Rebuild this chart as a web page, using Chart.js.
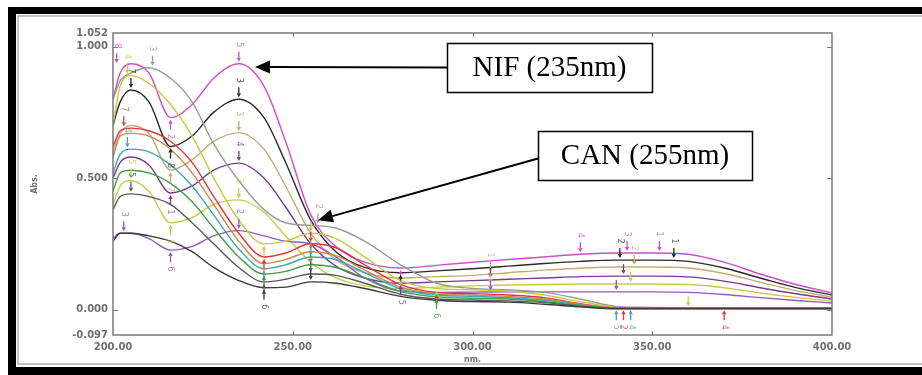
<!DOCTYPE html>
<html>
<head>
<meta charset="utf-8">
<script src="https://cdn.jsdelivr.net/npm/chart.js@4.4.1/dist/chart.umd.min.js"></script>
<style>
  body { margin: 0; background: #fff; }
  canvas { display: block; }
</style>
</head>
<body>
<canvas id="spectra" width="922" height="375"></canvas>
<script>
// 波长 (nm)
const wavelengths = [200, 202, 205, 210, 216, 222, 228, 235, 242, 248, 255, 262, 270, 280, 290, 300, 310, 320, 330, 340, 350, 360, 370, 380, 390, 400];

// NIF 含量较高的曲线 (235nm 有峰)
const absMagenta = [0.80, 0.90, 0.935, 0.90, 0.73, 0.78, 0.88, 0.935, 0.85, 0.64, 0.36, 0.24, 0.18, 0.158, 0.168, 0.18, 0.19, 0.20, 0.21, 0.215, 0.215, 0.21, 0.18, 0.135, 0.095, 0.063];
const absBlack   = [0.70, 0.79, 0.835, 0.79, 0.62, 0.66, 0.75, 0.80, 0.73, 0.56, 0.34, 0.22, 0.16, 0.14, 0.147, 0.155, 0.165, 0.175, 0.183, 0.188, 0.188, 0.183, 0.158, 0.12, 0.083, 0.055];
const absKhaki   = [0.60, 0.67, 0.70, 0.67, 0.53, 0.57, 0.64, 0.672, 0.61, 0.47, 0.29, 0.19, 0.14, 0.12, 0.125, 0.13, 0.14, 0.15, 0.157, 0.162, 0.162, 0.158, 0.137, 0.104, 0.072, 0.047];
const absPurple  = [0.50, 0.56, 0.58, 0.55, 0.443, 0.47, 0.53, 0.557, 0.50, 0.39, 0.25, 0.165, 0.12, 0.10, 0.105, 0.11, 0.115, 0.12, 0.125, 0.127, 0.127, 0.124, 0.108, 0.083, 0.06, 0.04];
const absYellow  = [0.40, 0.47, 0.49, 0.45, 0.33, 0.35, 0.40, 0.417, 0.37, 0.28, 0.18, 0.12, 0.09, 0.08, 0.085, 0.09, 0.093, 0.095, 0.097, 0.097, 0.097, 0.095, 0.083, 0.063, 0.046, 0.032];
const absViolet  = [0.27, 0.29, 0.29, 0.27, 0.226, 0.24, 0.28, 0.30, 0.28, 0.26, 0.25, 0.20, 0.12, 0.07, 0.065, 0.066, 0.067, 0.067, 0.067, 0.067, 0.067, 0.065, 0.057, 0.045, 0.034, 0.025];

// CAN 含量较高的曲线 (242nm 谷, 255nm 肩峰)
const absGray    = [0.80, 0.87, 0.90, 0.92, 0.88, 0.79, 0.63, 0.49, 0.38, 0.33, 0.32, 0.31, 0.26, 0.17, 0.10, 0.08, 0.075, 0.065, 0.04, 0.012, 0.008, 0.006, 0.005, 0.005, 0.005, 0.005];
const absLime    = [0.70, 0.85, 0.89, 0.86, 0.78, 0.66, 0.50, 0.34, 0.25, 0.26, 0.29, 0.27, 0.20, 0.11, 0.08, 0.075, 0.07, 0.055, 0.03, 0.008, 0.005, 0.005, 0.005, 0.005, 0.005, 0.005];
const absRed     = [0.62, 0.68, 0.69, 0.68, 0.64, 0.56, 0.43, 0.29, 0.20, 0.215, 0.25, 0.235, 0.17, 0.095, 0.065, 0.06, 0.055, 0.045, 0.022, 0.006, 0.005, 0.005, 0.005, 0.005, 0.005, 0.005];
const absOrange  = [0.58, 0.66, 0.67, 0.66, 0.61, 0.52, 0.40, 0.26, 0.175, 0.19, 0.22, 0.205, 0.15, 0.085, 0.06, 0.055, 0.05, 0.04, 0.02, 0.006, 0.005, 0.005, 0.005, 0.005, 0.005, 0.005];
const absTeal    = [0.52, 0.59, 0.61, 0.60, 0.55, 0.47, 0.36, 0.23, 0.155, 0.17, 0.20, 0.19, 0.14, 0.078, 0.055, 0.05, 0.045, 0.035, 0.017, 0.005, 0.005, 0.005, 0.005, 0.005, 0.005, 0.005];
const absGreen   = [0.45, 0.52, 0.53, 0.52, 0.48, 0.41, 0.31, 0.20, 0.135, 0.145, 0.17, 0.16, 0.12, 0.068, 0.048, 0.043, 0.04, 0.03, 0.015, 0.005, 0.005, 0.005, 0.005, 0.005, 0.005, 0.005];
const absDark    = [0.38, 0.43, 0.44, 0.43, 0.40, 0.33, 0.25, 0.16, 0.105, 0.115, 0.135, 0.13, 0.10, 0.058, 0.04, 0.036, 0.033, 0.026, 0.012, 0.004, 0.004, 0.004, 0.004, 0.004, 0.004, 0.004];
const absLowest  = [0.26, 0.29, 0.29, 0.28, 0.26, 0.22, 0.16, 0.11, 0.083, 0.085, 0.105, 0.10, 0.08, 0.05, 0.035, 0.03, 0.028, 0.02, 0.01, 0.003, 0.003, 0.003, 0.003, 0.003, 0.003, 0.003];

// 坐标轴刻度
const xTicks = [200, 250, 300, 350, 400];
const yTicks = [-0.097, 0.000, 0.500, 1.000, 1.052];

// 曲线与颜色
const seriesList = [absLowest, absDark, absGreen, absTeal, absOrange, absRed, absLime, absGray,
                    absViolet, absYellow, absPurple, absKhaki, absBlack, absMagenta];
const seriesColors = ['#3a3a3a', '#5a5a5a', '#3f9f46', '#3aa6b8', '#c98a4a', '#e0373a', '#c4cc3a', '#9a9a9a',
                      '#9a58b4', '#c6cc4a', '#7c3a8c', '#c2ae74', '#2a2a2a', '#d14ccc'];

// 峰/谷标记: 波长, 吸光度, 所属曲线序号, 编号, 方向 (1 = 峰, -1 = 谷)
const markNm     = [235, 235, 235, 235, 235, 235, 216, 216, 216, 216, 216, 216,
                    201, 211, 204, 205, 203, 204, 205, 205, 203,
                    242, 242, 242, 242, 242, 242, 242,
                    257, 255, 255, 255, 255, 255, 255, 255,
                    280, 280, 280, 280, 290, 290, 290,
                    305, 305, 305, 305, 330,
                    343, 341, 345, 342, 344, 340, 340, 342, 344, 352, 356, 360, 370];
const markAbs    = [0.935, 0.80, 0.672, 0.557, 0.417, 0.30, 0.73, 0.62, 0.53, 0.443, 0.33, 0.226,
                    0.93, 0.92, 0.89, 0.835, 0.69, 0.61, 0.49, 0.44, 0.29,
                    0.25, 0.20, 0.175, 0.155, 0.135, 0.105, 0.083,
                    0.32, 0.29, 0.25, 0.22, 0.20, 0.17, 0.135, 0.105,
                    0.158, 0.14, 0.12, 0.10, 0.08, 0.065, 0.048,
                    0.135, 0.113, 0.091, 0.066, 0.21,
                    0.215, 0.188, 0.162, 0.127, 0.097, 0.067, 0.005, 0.005, 0.005, 0.215, 0.188, 0.005, 0.005];
const markSeries = [13, 12, 11, 10, 9, 8, 13, 12, 11, 10, 9, 8,
                    13, 7, 6, 12, 5, 3, 9, 1, 8,
                    6, 5, 4, 3, 2, 1, 0,
                    7, 6, 5, 4, 3, 2, 1, 0,
                    13, 12, 11, 10, 6, 5, 2,
                    11, 10, 9, 8, 13,
                    13, 12, 11, 10, 9, 8, 3, 5, 3, 13, 12, 6, 5];
const markLabel  = ['5', '3', '3', '4', '3', '2', '2', '8', '7', '1', '1', '6',
                    '8', '3', '4', '7', '7', '4', '5', '5', '3',
                    '', '', '', '', '', '', '6',
                    '2', '', '', '', '', '', '', '',
                    '', '', '', '5', '', '', '6',
                    '1', '', '', '', '4',
                    '3', '2', '2', '', '', '', '5', '2', '4', '1', '1', '', '4'];
const markDir    = [1, 1, 1, 1, 1, 1, -1, -1, -1, -1, -1, -1,
                    1, 1, 1, 1, 1, 1, 1, 1, 1,
                    -1, -1, -1, -1, -1, -1, -1,
                    1, 1, 1, 1, 1, 1, 1, 1,
                    -1, -1, -1, -1, -1, -1, -1,
                    1, 1, 1, 1, 1,
                    1, 1, 1, 1, 1, 1, -1, -1, -1, 1, 1, 1, -1];

// 标注框 (NIF / CAN)
const callouts = [
  { text: 'NIF (235nm)', box: [447, 43, 205, 49], tipNm: 239.5, tipAbs: 0.923, dy: 0 },
  { text: 'CAN (255nm)', box: [538, 131, 214, 49], tipNm: 257.0, tipAbs: 0.340, dy: 3 }
];

const datasets = seriesList.map((vals, i) => ({
  data: vals.map((v, j) => ({ x: wavelengths[j], y: v })),
  borderColor: seriesColors[i],
  borderWidth: 1.4,
  pointRadius: 0,
  cubicInterpolationMode: 'monotone',
  fill: false
}));

function drawArrow(ctx, sx, sy, tx, ty, headLen, headW) {
  const ang = Math.atan2(ty - sy, tx - sx);
  const hx = tx - headLen * Math.cos(ang), hy = ty - headLen * Math.sin(ang);
  ctx.beginPath();
  ctx.moveTo(sx, sy);
  ctx.lineTo(hx, hy);
  ctx.stroke();
  ctx.beginPath();
  ctx.moveTo(tx, ty);
  ctx.lineTo(hx + headW * Math.sin(ang), hy - headW * Math.cos(ang));
  ctx.lineTo(hx - headW * Math.sin(ang), hy + headW * Math.cos(ang));
  ctx.closePath();
  ctx.fill();
}

// 画外框、坐标框、内刻度、峰标记与标注
const framePlugin = {
  id: 'frame',
  beforeDraw(chart) {
    const ctx = chart.ctx;
    ctx.save();
    ctx.fillStyle = '#fff';
    ctx.fillRect(0, 0, chart.width, chart.height);
    // 黑色粗边框
    ctx.fillStyle = '#000';
    ctx.fillRect(8, 7, chart.width - 8, 7);
    ctx.fillRect(8, 7, 8, chart.height - 7);
    ctx.fillRect(8, chart.height - 8, chart.width - 8, 8);
    // 内侧灰线
    ctx.strokeStyle = '#b0b0b0';
    ctx.lineWidth = 1.5;
    ctx.beginPath();
    ctx.moveTo(chart.width, 16);
    ctx.lineTo(18, 16);
    ctx.lineTo(18, chart.height - 11);
    ctx.lineTo(chart.width, chart.height - 11);
    ctx.stroke();
    ctx.restore();
  },
  afterDatasetsDraw(chart) {
    const ctx = chart.ctx;
    const a = chart.chartArea;
    const xs = chart.scales.x, ys = chart.scales.y;
    ctx.save();
    ctx.strokeStyle = '#7a7a7a';
    ctx.lineWidth = 1.5;
    ctx.strokeRect(a.left, a.top, a.right - a.left, a.bottom - a.top);
    ctx.lineWidth = 1;
    ctx.beginPath();
    xTicks.slice(1, -1).forEach(t => {
      const px = Math.round(xs.getPixelForValue(t)) + 0.5;
      ctx.moveTo(px, a.bottom); ctx.lineTo(px, a.bottom - 4);
      ctx.moveTo(px, a.top); ctx.lineTo(px, a.top + 4);
    });
    [0, 0.5, 1].forEach(t => {
      const py = Math.round(ys.getPixelForValue(t)) + 0.5;
      ctx.moveTo(a.left, py); ctx.lineTo(a.left + 5, py);
      ctx.moveTo(a.right, py); ctx.lineTo(a.right - 5, py);
    });
    ctx.stroke();

    // 峰谷小箭头
    ctx.lineWidth = 1.3;
    ctx.font = '8px "DejaVu Sans", sans-serif';
    ctx.textAlign = 'center';
    ctx.textBaseline = 'middle';
    markNm.forEach((nm, i) => {
      const col = seriesColors[markSeries[i]];
      const px = xs.getPixelForValue(nm), py = ys.getPixelForValue(markAbs[i]);
      const d = markDir[i];
      ctx.strokeStyle = col;
      ctx.fillStyle = col;
      drawArrow(ctx, px, py - d * 12, px, py - d * 2, 4, 2.2);
      if (markLabel[i]) {
        ctx.save();
        ctx.translate(px, py - d * 19);
        ctx.rotate(Math.PI / 2);
        ctx.globalAlpha = 0.8;
        ctx.fillText(markLabel[i], 0, 0);
        ctx.restore();
      }
    });
    ctx.restore();
  },
  afterDraw(chart) {
    const ctx = chart.ctx;
    const xs = chart.scales.x, ys = chart.scales.y;
    ctx.save();
    callouts.forEach(c => {
      const [bx, by, bw, bh] = c.box;
      ctx.fillStyle = '#fff';
      ctx.fillRect(bx, by, bw, bh);
      ctx.strokeStyle = '#000';
      ctx.lineWidth = 1.5;
      ctx.strokeRect(bx + 0.5, by + 0.5, bw, bh);
      ctx.fillStyle = '#000';
      ctx.font = '29px "Liberation Serif", "Times New Roman", serif';
      ctx.textAlign = 'center';
      ctx.textBaseline = 'middle';
      ctx.fillText(c.text, bx + bw / 2, by + bh / 2 + 1);
      // 箭头
      ctx.lineWidth = 2;
      drawArrow(ctx, bx, by + bh / 2 + c.dy,
        xs.getPixelForValue(c.tipNm), ys.getPixelForValue(c.tipAbs), 15, 6.5);
    });
    ctx.restore();
  }
};

const tickFont = { family: '"DejaVu Sans", sans-serif', size: 10, weight: 'bold' };

new Chart(document.getElementById('spectra'), {
  type: 'line',
  data: { datasets },
  options: {
    responsive: false,
    animation: false,
    layout: { padding: { left: 0, top: 33, right: 90, bottom: 0 } },
    plugins: { legend: { display: false }, tooltip: { enabled: false } },
    scales: {
      x: {
        type: 'linear',
        min: 200,
        max: 400,
        afterBuildTicks: s => { s.ticks = xTicks.map(v => ({ value: v })); },
        afterFit: s => { s.height = 40; },
        grid: { display: false, drawTicks: false },
        border: { display: false },
        ticks: {
          padding: 6,
          maxRotation: 0,
          color: '#707070',
          font: tickFont,
          callback: v => Number(v).toFixed(2)
        },
        title: {
          display: true,
          text: 'nm.',
          color: '#707070',
          font: { family: '"DejaVu Sans", sans-serif', size: 8, weight: 'bold' },
          padding: { top: 0, bottom: 10 }
        }
      },
      y: {
        min: -0.097,
        max: 1.052,
        afterBuildTicks: s => { s.ticks = yTicks.map(v => ({ value: v })); },
        afterFit: s => { s.width = 113; },
        grid: { display: false, drawTicks: false },
        border: { display: false },
        ticks: {
          padding: 5,
          color: '#707070',
          font: tickFont,
          callback: v => Number(v).toFixed(3)
        },
        title: {
          display: true,
          text: 'Abs.',
          color: '#707070',
          font: { family: '"DejaVu Sans", sans-serif', size: 8, weight: 'bold' },
          padding: { top: 30, bottom: 0 }
        }
      }
    }
  },
  plugins: [framePlugin]
});
</script>
</body>
</html>
